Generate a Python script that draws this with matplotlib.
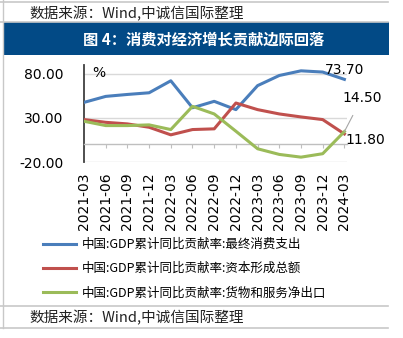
import matplotlib
matplotlib.use('Agg')
import matplotlib.pyplot as plt
from matplotlib.ticker import FormatStrFormatter
from matplotlib.patches import Rectangle
from matplotlib.lines import Line2D

plt.rcParams['font.family'] = ['Noto Sans CJK SC', 'DejaVu Sans']

dates = ['2021-03', '2021-06', '2021-09', '2021-12', '2022-03', '2022-06', '2022-09',
         '2022-12', '2023-03', '2023-06', '2023-09', '2023-12', '2024-03']
consumption = [47.6, 54.4, 56.6, 58.5, 72.1, 41.5, 48.8, 39.4, 66.6, 78.1, 83.4, 82.0, 73.7]
capital = [28.1, 25.0, 23.2, 19.4, 10.8, 16.8, 17.6, 46.9, 39.4, 34.5, 31.1, 28.1, 11.8]
net_exports = [26.2, 21.3, 21.3, 22.1, 16.8, 43.1, 34.5, 14.9, -5.0, -11.4, -14.5, -10.6, 14.5]
names = ['中国:GDP累计同比贡献率:最终消费支出',
         '中国:GDP累计同比贡献率:资本形成总额',
         '中国:GDP累计同比贡献率:货物和服务净出口']
colors = ['#4A7EBB', '#C0504D', '#9BBB59']
y_ticks = [-20, 30, 80]

W, H = 403, 338
fig = plt.figure(figsize=(W / 100, H / 100), dpi=100, facecolor='white')

def fx(px):
    return px / W

def fy(py):
    return 1 - py / H

# frame lines and title bar
gray = '#C8C8C8'
for py in [1.5, 22, 306, 328]:
    fig.add_artist(Line2D([0, fx(388)], [fy(py), fy(py)], color=gray, lw=1.2))
fig.add_artist(Line2D([fx(3), fx(3)], [fy(0), fy(328)], color=gray, lw=1))
fig.add_artist(Rectangle((fx(3), fy(54.5)), fx(386), 32 / H, facecolor='#024A86',
                         edgecolor='none'))
fig.text(fx(29), fy(13.5), '数据来源：Wind,中诚信国际整理', fontsize=10.5,
         color='#222222', va='center', ha='left')
fig.text(fx(204), fy(39.5), '图 4：消费对经济增长贡献边际回落', fontsize=11,
         color='white', va='center', ha='center', fontweight='bold')
fig.text(fx(29), fy(318), '数据来源：Wind,中诚信国际整理', fontsize=10.5,
         color='#222222', va='center', ha='left')

ax = fig.add_axes([fx(84), fy(162), 263 / W, 97 / H])
x = list(range(len(dates)))
lines = []
for vals, c in zip([consumption, capital, net_exports], colors):
    ln, = ax.plot(x, vals, color=c, lw=2.2, solid_joinstyle='round', zorder=3)
    lines.append(ln)

ax.set_xlim(0, 12.12)
ax.set_ylim(-20, 90)
ax.set_yticks(y_ticks)
ax.yaxis.set_major_formatter(FormatStrFormatter('%.2f'))
ax.grid(axis='y', color='#D9D9D9', lw=1)
ax.set_axisbelow(True)
for s in ['top', 'right']:
    ax.spines[s].set_visible(False)
ax.spines['left'].set_color('#404040')
ax.spines['left'].set_linewidth(1.3)
ax.spines['bottom'].set_position(('data', 0))
ax.spines['bottom'].set_color('#BFBFBF')
ax.spines['bottom'].set_linewidth(1)
ax.set_xticks(x)
ax.set_xticklabels(dates, rotation=90, family='DejaVu Sans', fontsize=10)
ax.tick_params(axis='x', direction='out', length=3, color='#BFBFBF', pad=17.5)
ax.tick_params(axis='y', length=0, pad=15)
for t in ax.get_yticklabels():
    t.set_family('DejaVu Sans')
    t.set_fontsize(10)

ax.text(0.03, 0.92, '%', transform=ax.transAxes, fontsize=10, ha='left', va='center',
        family='DejaVu Sans')

# end-point labels
last = len(dates) - 1
ax.annotate(f'{consumption[-1]:.2f}', (last, consumption[-1]), xytext=(0, 6.5),
            textcoords='offset points', ha='center', va='center', fontsize=10,
            family='DejaVu Sans')
ax.annotate(f'{net_exports[-1]:.2f}', (last, net_exports[-1]), xytext=(12.5, 24),
            textcoords='offset points', ha='center', va='center', fontsize=10,
            family='DejaVu Sans', annotation_clip=False,
            arrowprops=dict(arrowstyle='-', color='#A6A6A6', lw=0.8, shrinkA=6, shrinkB=0))
ax.annotate(f'{capital[-1]:.2f}', (last, capital[-1]), xytext=(1, -4.5),
            textcoords='offset points', ha='left', va='center', fontsize=10,
            family='DejaVu Sans', annotation_clip=False)

fig.legend(lines, names, loc='upper left', bbox_to_anchor=(fx(43), fy(238)),
           frameon=False, fontsize=9, handlelength=2.6, handletextpad=0.5,
           labelspacing=0.9, borderpad=0, borderaxespad=0)

fig.savefig('out.png', dpi=100, facecolor='white')
